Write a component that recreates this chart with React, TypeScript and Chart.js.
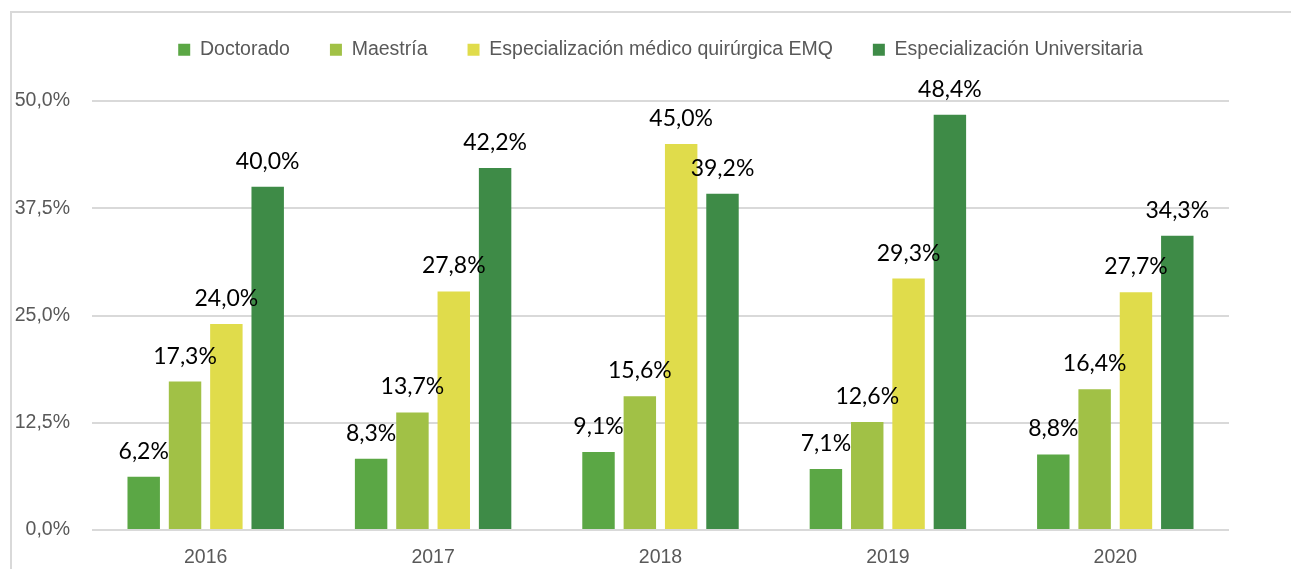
import React, { useEffect, useRef } from 'react';
import { Chart, registerables } from 'chart.js';

Chart.register(...registerables);

const years = ['2016', '2017', '2018', '2019', '2020'];
const seriesNames = [
  'Doctorado',
  'Maestría',
  'Especialización médico quirúrgica EMQ',
  'Especialización Universitaria',
];
const doctorado = [6.2, 8.3, 9.1, 7.1, 8.8];
const maestria = [17.3, 13.7, 15.6, 12.6, 16.4];
const emq = [24.0, 27.8, 45.0, 29.3, 27.7];
const universitaria = [40.0, 42.2, 39.2, 48.4, 34.3];
const yTicks = [0, 12.5, 25, 37.5, 50];
const seriesColors = ['#5BA745', '#A1C146', '#E0DC4B', '#3E8B47'];

const fmt = (v: number) => v.toFixed(1).replace('.', ',') + '%';

const GRAY = '#595959';
const TEXT_FONT = { family: '"Liberation Sans", Arial, sans-serif', size: 19.5 };

const legendSpacer = {
  id: 'legendSpacer',
  beforeLayout(chart: any) {
    const lg = chart.legend;
    if (lg && !lg._patched) {
      const orig = lg.fit;
      lg.fit = function () {
        orig.call(this);
        this.height = 101;
      };
      lg._patched = true;
    }
  },
};

const valueLabels = {
  id: 'valueLabels',
  afterDatasetsDraw(chart: any) {
    const ctx = chart.ctx;
    ctx.save();
    ctx.font = '23px Lato, "Open Sans", sans-serif';
    ctx.fillStyle = '#000000';
    ctx.textAlign = 'center';
    ctx.textBaseline = 'alphabetic';
    chart.data.datasets.forEach((ds: any, di: number) => {
      const meta = chart.getDatasetMeta(di);
      meta.data.forEach((el: any, i: number) => {
        ctx.fillText(fmt(ds.data[i]), el.x, el.y - 18);
      });
    });
    ctx.restore();
  },
};

export default function App() {
  const ref = useRef<HTMLCanvasElement | null>(null);

  useEffect(() => {
    if (!ref.current) return;
    const seriesData = [doctorado, maestria, emq, universitaria];
    const chart = new Chart(ref.current, {
      type: 'bar',
      data: {
        labels: years,
        datasets: seriesNames.map((name, i) => ({
          label: name,
          data: seriesData[i],
          backgroundColor: seriesColors[i],
          borderWidth: 0,
          categoryPercentage: 0.727,
          barPercentage: 0.785,
        })),
      },
      options: {
        responsive: false,
        animation: false,
        layout: { padding: { top: 0, left: 0, right: 62, bottom: 0 } },
        plugins: {
          legend: {
            position: 'top',
            fullSize: false,
            labels: {
              boxWidth: 12,
              boxHeight: 12,
              padding: 40,
              color: GRAY,
              font: TEXT_FONT,
            },
          },
          tooltip: { enabled: false },
        },
        scales: {
          x: {
            grid: { display: false, drawTicks: false },
            border: { display: false },
            ticks: { color: GRAY, font: TEXT_FONT, padding: 16 },
            afterFit: (s: any) => {
              s.height = 39;
            },
          },
          y: {
            min: 0,
            max: 50,
            grid: { color: '#D9D9D9', lineWidth: 2, drawTicks: false },
            border: { display: false },
            ticks: {
              color: GRAY,
              font: TEXT_FONT,
              padding: 22,
              callback: (v: any) => fmt(Number(v)),
            },
            afterBuildTicks: (s: any) => {
              s.ticks = yTicks.map((v) => ({ value: v }));
            },
            afterFit: (s: any) => {
              s.width = 92;
            },
          },
        },
      },
      plugins: [legendSpacer, valueLabels],
    } as any);
    return () => chart.destroy();
  }, []);

  return (
    <div style={{ position: 'absolute', left: 0, top: 0, width: 1291, height: 569, overflow: 'hidden', background: '#fff' }}>
      <div
        style={{
          position: 'absolute',
          left: 10,
          top: 11,
          right: 0,
          bottom: 0,
          borderLeft: '2px solid #D9D9D9',
          borderTop: '2px solid #D9D9D9',
        }}
      />
      <canvas ref={ref} width={1291} height={569} style={{ position: 'absolute', left: 0, top: 0 }} />
    </div>
  );
}
